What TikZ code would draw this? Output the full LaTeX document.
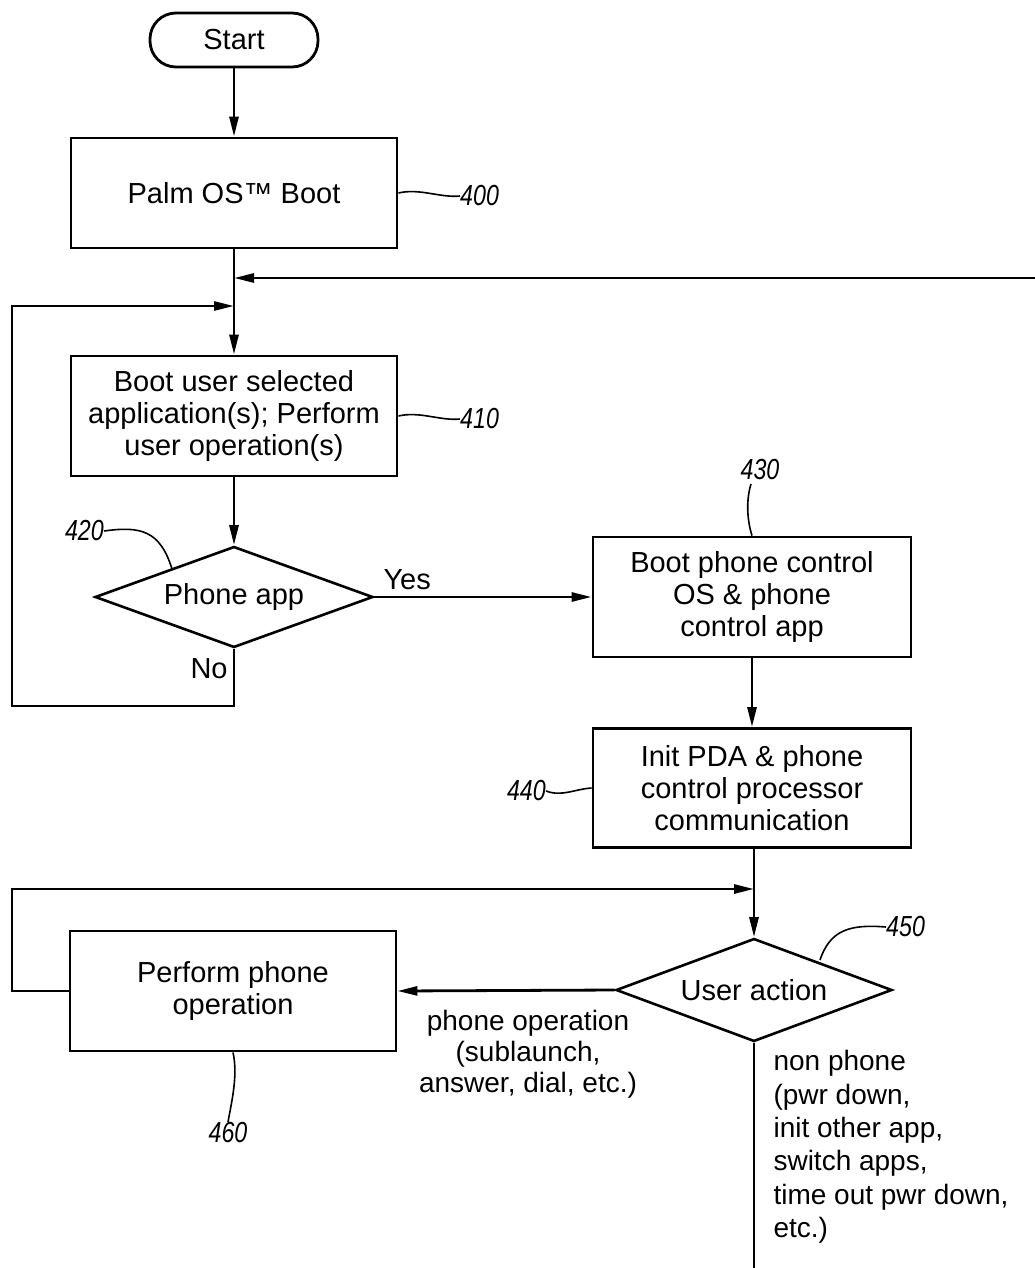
\documentclass[tikz,border=0pt]{standalone}
\usepackage{fontspec}
\setmainfont{Liberation Sans}
\newfontfamily\numfont[FakeStretch=0.8]{Liberation Sans}
\usetikzlibrary{shapes.geometric,arrows.meta}
\begin{document}
\begin{tikzpicture}[x=1pt,y=-1pt,
  txt/.style={font=\fontsize{29}{32}\selectfont},
  box/.style={draw, line width=2.8pt, align=center, inner sep=0pt, txt},
  dia/.style={draw, diamond, aspect=2.7, line width=2.6pt, inner sep=0pt, txt},
  conn/.style={line width=2.8pt},
  arr/.style={conn, -{Triangle[length=20pt,width=9pt]}},
  num/.style={font=\numfont\itshape\fontsize{29}{29}\selectfont, inner sep=0pt},
  lead/.style={line width=1.6pt}]
\useasboundingbox (0,0) rectangle (1035,1268);

% nodes
\node[box, rounded corners=26pt, minimum width=168pt, minimum height=54pt] (start) at (234,40) {Start};
\node[box, minimum width=326pt, minimum height=110pt] (palm) at (234,193) {Palm OS™ Boot};
\node[box, minimum width=326pt, minimum height=120pt] (b410) at (234,416) {Boot user selected\\application(s); Perform\\user operation(s)};
\node[dia, minimum width=278pt, minimum height=101pt] (d420) at (234,597) {Phone app};
\node[box, minimum width=318pt, minimum height=120pt] (b430) at (752,597) {Boot phone control\\OS \& phone\\control app};
\node[box, minimum width=318pt, minimum height=119pt] (b440) at (752,788) {Init PDA \& phone\\control processor\\communication};
\node[dia, minimum width=276pt, minimum height=103pt] (d450) at (754,990) {User action};
\node[box, minimum width=326pt, minimum height=120pt] (b460) at (233,991) {Perform phone\\operation};

% helper coordinates
\coordinate (ret) at (1035,278);
\coordinate (j1) at (234,278);
\coordinate (j2) at (234,306);
\coordinate (l1) at (234,706);
\coordinate (l2) at (12,706);
\coordinate (l3) at (12,306);
\coordinate (j3) at (754,889);
\coordinate (m1) at (12,991);
\coordinate (m2) at (12,889);
\coordinate (endd) at (754,1268);

% connectors
\draw[arr] (start) -- (palm);
\draw[arr] (palm) -- (b410);
\draw[arr] (ret) -- (j1);
\draw[arr] (d420.south) -- (l1) -- (l2) -- (l3) -- (j2);
\draw[arr] (b410) -- (d420.north);
\draw[arr] (d420.east) -- (b430.west);
\draw[arr] (b430) -- (b440);
\draw[arr] (b440.south -| d450.north) -- (d450.north);
\draw[arr] (b460.west) -- (m1) -- (m2) -- (j3);
\draw[arr] (d450.west) -- (b460.east);
\draw[conn] (d450.south) -- (endd);

% edge labels
\node[txt, anchor=base west] (yes) at (380,589) {Yes};
\node[txt, anchor=base west] (no) at (187,678) {No};
\node[txt, align=center, anchor=north, font=\fontsize{28}{31}\selectfont] (phop) at (528,1007) {phone operation\\(sublaunch,\\answer, dial, etc.)};
\node[txt, align=left, anchor=north west, font=\fontsize{28}{33.3}\selectfont] (nonph) at (770,1047) {non phone\\(pwr down,\\init other app,\\switch apps,\\time out pwr down,\\etc.)};

% reference numerals
\node[num, anchor=west] (n400) at (460,196) {400};
\draw[lead] (palm.east) .. controls (420,188) and (440,198) .. (n400.west);
\node[num, anchor=west] (n410) at (460,419) {410};
\draw[lead] (b410.east) .. controls (420,411) and (440,421) .. (n410.west);
\node[num, anchor=east] (n420) at (104,531) {420};
\coordinate (t420) at (172,569);
\draw[lead] (n420.east) .. controls (140,526) and (160,530) .. (t420);
\node[num, anchor=south] (n430) at (760,480) {430};
\draw[lead] (751,484) .. controls (746,500) and (747,520) .. (b430.north);
\node[num, anchor=east] (n440) at (546,791) {440};
\draw[lead] (n440.east) .. controls (562,797) and (575,789) .. (b440.west);
\node[num, anchor=west] (n450) at (886,927) {450};
\coordinate (t450) at (820,960);
\draw[lead] (t450) .. controls (830,930) and (850,924) .. (n450.west);
\node[num, anchor=north] (n460) at (228,1122) {460};
\draw[lead] (b460.south) .. controls (238,1075) and (232,1100) .. (n460.north);
\end{tikzpicture}
\end{document}
